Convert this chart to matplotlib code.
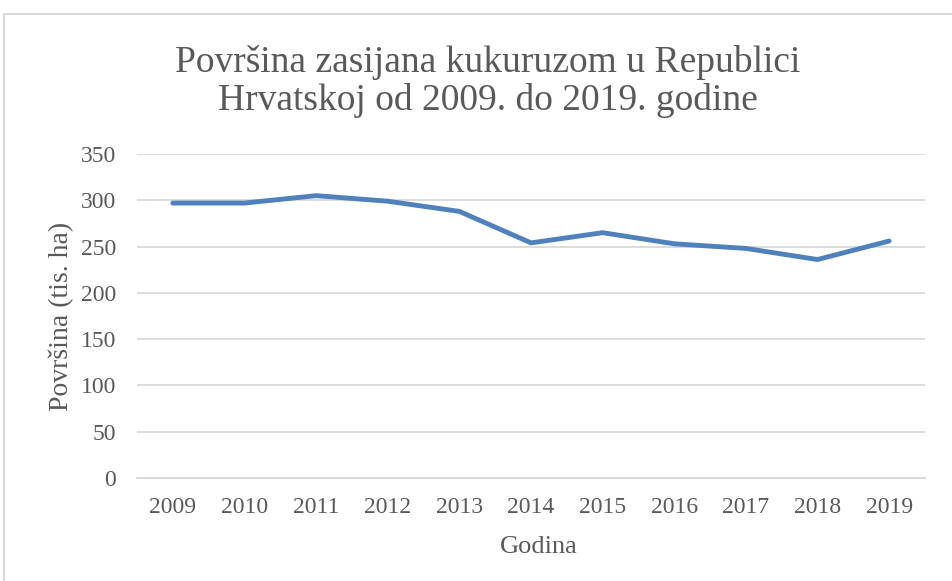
import matplotlib
matplotlib.use('Agg')
import matplotlib.pyplot as plt
from matplotlib.patches import Rectangle

# Data
years = ['2009', '2010', '2011', '2012', '2013', '2014',
         '2015', '2016', '2017', '2018', '2019']
area = [297, 297, 305, 299, 288, 254, 265, 253, 248, 236, 256]
y_ticks = [0, 50, 100, 150, 200, 250, 300, 350]

title = 'Površina zasijana kukuruzom u Republici\nHrvatskoj od 2009. do 2019. godine'
x_title = 'Godina'
y_title = 'Površina (tis. ha)'

TEXT = '#595959'
GRID = '#D9D9D9'
LINE = '#4F81BD'

plt.rcParams['font.family'] = ['Liberation Serif', 'DejaVu Serif']

fig = plt.figure(figsize=(9.52, 5.81), dpi=100)

# chart area frame (cut off on the right and bottom like the reference)
fig.patches.append(Rectangle((4 / 952, -0.05), 1.2, 1 - 13.5 / 581 + 0.05,
                             transform=fig.transFigure, fill=False,
                             edgecolor=GRID, linewidth=1.5))

ax = fig.add_axes([137 / 952, 103 / 581, 788 / 952, 324 / 581])
x = list(range(len(years)))
ax.plot(x, area, color=LINE, linewidth=3.5, solid_capstyle='round',
        solid_joinstyle='round', zorder=3)

ax.set_xlim(-0.5, len(years) - 0.5)
ax.set_ylim(0, 350)
ax.set_yticks(y_ticks)
ax.set_xticks(x)
ax.set_xticklabels(years)
ax.grid(axis='y', color=GRID, linewidth=1.3)
ax.set_axisbelow(True)
for side in ['left', 'right', 'top']:
    ax.spines[side].set_visible(False)
ax.spines['bottom'].set_color(GRID)
ax.spines['bottom'].set_linewidth(1.3)
ax.tick_params(axis='both', length=0, labelsize=17, colors=TEXT)
ax.tick_params(axis='y', pad=15)
ax.tick_params(axis='x', pad=14)

ax.set_xlabel(x_title, fontsize=19, color=TEXT)
ax.set_ylabel(y_title, fontsize=20, color=TEXT)
ax.xaxis.set_label_coords((539 - 137) / 788, -(553 - 478) / 324, transform=None)
ax.xaxis.label.set_va('baseline')
ax.yaxis.set_label_coords(-(137 - 74) / 788, 0.5)
ax.yaxis.label.set_va('bottom')

fig.text(488 / 952, 1 - 45 / 581, title, ha='center', va='top',
         fontsize=27, color=TEXT, linespacing=1.12)

fig.savefig('out.png', dpi=100)
